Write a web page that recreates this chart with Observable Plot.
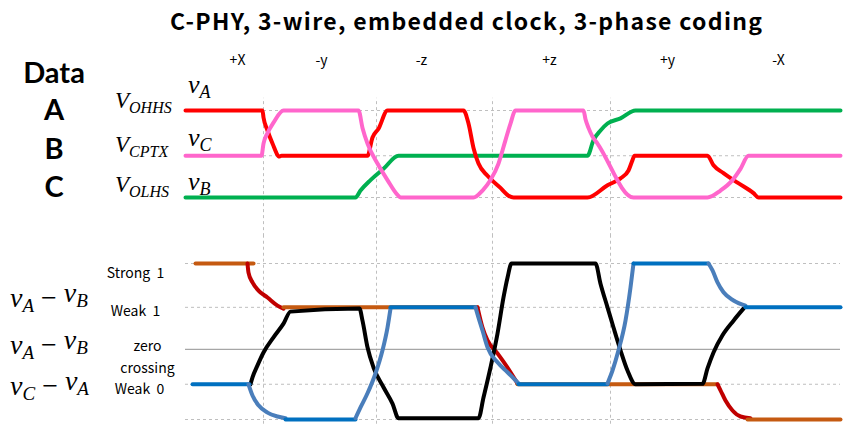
<!DOCTYPE html>
<html><head><meta charset="utf-8">
<script src="https://cdn.jsdelivr.net/npm/d3@7"></script>
<script src="https://cdn.jsdelivr.net/npm/@observablehq/plot@0.6"></script>
<style>
body{margin:0;background:#fff;}
#chart{position:relative;width:844px;height:424px;overflow:hidden;background:#fff;}
#chart svg{position:absolute;left:0;top:0;background:transparent;}
</style></head><body><div id="chart"></div>
<script>
// ---------- data ----------
const title = "C-PHY, 3-wire, embedded clock, 3-phase coding";
const phaseNames = ["+X", "-y", "-z", "+z", "+y", "-X"];
const phaseTimes = [237, 321, 421, 549, 667, 778];
const boundaries = [263, 376, 492, 610];
const timeDomain = [0, 844];
const gridStartTop = 263, gridStartBottom = 185, timeEnd = 840;

const wireNames = ["A", "B", "C"];
const levelNames = [["V", "OHHS"], ["V", "CPTX"], ["V", "OLHS"]];
const wireVoltNames = [["v", "A"], ["v", "C"], ["v", "B"]];
const topLevels = [1, 0.48, 0];             // VOHHS, VCPTX, VOLHS (normalized)

// single-ended wire voltages [time, level]
const vA = [[185,1],[262,1],[263,0.92],[267,0.77],[272,0.62],[279,0.47],[281,0.48],[367,0.48],[372,0.69],[378,0.79],[387,1],
  [463,1],[468,0.85],[473,0.57],[478,0.39],[487,0.25],[500,0.11],[508,0.02],[513,0],[587,0],[607,0.14],[620,0.22],[628,0.31],
  [632,0.43],[634,0.48],[707,0.48],[713,0.37],[723,0.28],[737,0.17],[753,0.05],[758,0],[840,0]];
const vC = [[185,0.48],[261,0.48],[263,0.62],[267,0.74],[273,0.86],[283,1],[358,1],[362,0.8],[367,0.62],[377,0.39],[387,0.2],
  [397,0.03],[400,0],[473,0],[482,0.08],[490,0.2],[498,0.39],[505,0.66],[510,0.85],[515,1],[583,1],[585,0.9],[588,0.8],
  [592,0.7],[597,0.62],[633,0],[707,0],[720,0.08],[732,0.2],[740,0.33],[748,0.48],[840,0.48]];
const vB = [[185,0],[355,0],[360,0.08],[370,0.2],[383,0.33],[398,0.48],[587,0.48],[593,0.66],[600,0.77],[607,0.85],
  [620,0.91],[635,1],[840,1]];

// differential levels (normalized) and labels
const diffLevels = [2, 0.98, -0.81, -1.63];
const diffLabels = ["Strong\u00a0\u00a01", "Weak\u00a0\u00a01", "zero\ncrossing", "Weak\u00a0\u00a00"];
const diffLabelLevels = [2, 0.98, 0, -0.81];
const diffLabelTimes = [135, 135, 147, 139];
const diffNames = [["v","A"," \u2212 ","v","B"], ["v","A"," \u2212 ","v","B"], ["v","C"," \u2212 ","v","A"]];

// differential traces: [kind, points]
const diffAB = [
  ["flat", [[195,2],[253,2]]],
  ["edge", [[247,2],[248,1.79],[252,1.56],[258,1.37],[267,1.21],[277,1.02],[283,0.95]]],
  ["flat", [[283,0.98],[477,0.98]]],
  ["edge", [[477,0.98],[482,0.51],[487,0.21],[497,-0.09],[507,-0.42],[517,-0.79]]],
  ["flat", [[517,-0.81],[717,-0.81]]],
  ["edge", [[717,-0.81],[720,-0.95],[725,-1.19],[732,-1.42],[740,-1.56],[750,-1.6]]],
  ["flat", [[747,-1.63],[840,-1.63]]]
];
const diffCA = [[250,-0.81],[252,-0.65],[257,-0.37],[263,-0.07],[273,0.28],[283,0.6],[290,0.88],[359,0.95],[362,0.67],
  [367,0.05],[373,-0.42],[383,-0.88],[392,-1.26],[398,-1.6],[478,-1.6],[483,-1.12],[490,-0.42],[497,0.37],[503,1.21],
  [507,1.67],[511,2],[595,2],[600,1.53],[607,0.98],[613,0.51],[620,-0.02],[627,-0.49],[635,-0.81],[702,-0.8],[707,-0.44],
  [713,-0.07],[722,0.33],[733,0.67],[743,0.95]];
const diffBC = [
  ["flat", [[192,-0.81],[249,-0.81]]],
  ["edge", [[248,-0.81],[252,-1.07],[258,-1.3],[267,-1.47],[277,-1.56],[285,-1.6]]],
  ["flat", [[285,-1.63],[355,-1.63]]],
  ["edge", [[355,-1.6],[360,-1.35],[367,-1.02],[375,-0.56],[382,-0.02],[387,0.51],[390,0.95]]],
  ["flat", [[390,0.98],[475,0.98]]],
  ["edge", [[475,0.98],[478,0.74],[482,0.44],[487,0.05],[497,-0.3],[507,-0.53],[518,-0.79]]],
  ["flat", [[518,-0.81],[607,-0.81]]],
  ["edge", [[607,-0.79],[612,-0.49],[618,-0.02],[625,0.67],[630,1.44],[633,2]]],
  ["flat", [[633,2],[708,2]]],
  ["edge", [[708,2],[712,1.84],[717,1.56],[723,1.33],[733,1.14],[745,1.02]]],
  ["flat", [[745,0.98],[840,0.98]]]
];

// ---------- drawing ----------
const W = 844, H = 424;
const FONT = "'Noto Sans CJK SC', 'Noto Sans', sans-serif";
const BIG = "Lato, 'Noto Sans', sans-serif";
const MATH = "'Liberation Serif', 'DejaVu Serif', serif";
const chart = document.getElementById("chart");
const pts = arr => arr.map(([t, v]) => ({t, v}));
const rows = segs => segs.flatMap(([kind, p], i) => p.map(([t, v]) => ({t, v, kind, seg: i})));
const dash = {stroke: "#BFBFBF", strokeWidth: 1, strokeDasharray: "3,3"};

const topPlot = Plot.plot({
  width: W, height: H, marginTop: 110, marginBottom: 227, marginLeft: 0, marginRight: 0,
  x: {domain: timeDomain, axis: null}, y: {domain: [0, 1], axis: null},
  style: {background: "transparent", fontFamily: FONT, overflow: "visible"},
  marks: [
    Plot.ruleX(boundaries, {x: d => d, y1: -0.45, y2: 1.14, ...dash}),
    Plot.ruleY(topLevels, {y: d => d, x1: gridStartTop, x2: timeEnd, ...dash}),
    Plot.line(pts(vB), {x: "t", y: "v", stroke: "#00B050", strokeWidth: 4, curve: "monotone-x"}),
    Plot.line(pts(vA), {x: "t", y: "v", stroke: "#FF0000", strokeWidth: 4, curve: "monotone-x"}),
    Plot.line(pts(vC), {x: "t", y: "v", stroke: "#FF66CC", strokeWidth: 4, curve: "monotone-x"}),
    Plot.text(phaseNames, {x: (d, i) => phaseTimes[i], y: 1.57, text: d => d, fontSize: 14, fill: "#000"})
  ]
});

const labelDy = [7, 2, 6, 3];
const botPlot = Plot.plot({
  width: W, height: H, marginTop: 263, marginBottom: 5, marginLeft: 0, marginRight: 0,
  x: {domain: timeDomain, axis: null}, y: {domain: [-1.63, 2], axis: null},
  color: {type: "identity"},
  style: {background: "transparent", fontFamily: FONT, overflow: "visible"},
  marks: [
    Plot.ruleX(boundaries, {x: d => d, y1: -1.74, y2: 2.63, ...dash}),
    Plot.ruleY(diffLevels, {y: d => d, x1: gridStartBottom, x2: timeEnd, ...dash}),
    Plot.ruleY([0], {y: d => d, x1: gridStartBottom, x2: timeEnd, stroke: "#A6A6A6", strokeWidth: 1.3}),
    Plot.line(rows(diffAB), {x: "t", y: "v", z: "seg", stroke: d => d.kind === "flat" ? "#C55A11" : "#C00000", strokeWidth: 4, curve: "monotone-x"}),
    Plot.line(pts(diffCA), {x: "t", y: "v", stroke: "#000000", strokeWidth: 4, curve: "monotone-x"}),
    Plot.line(rows(diffBC), {x: "t", y: "v", z: "seg", stroke: d => d.kind === "flat" ? "#0070C0" : "#4A7EBB", strokeWidth: 4, curve: "monotone-x"}),
    ...diffLabels.map((s, i) => Plot.text([s], {x: diffLabelTimes[i], y: diffLabelLevels[i], text: d => d, dy: labelDy[i], fontSize: 14, lineHeight: 1.57, fill: "#000"}))
  ]
});

chart.appendChild(botPlot);
chart.appendChild(topPlot);

// annotation overlay (title, wire names, math labels)
const ov = d3.select(chart).append("svg").attr("width", W).attr("height", H);
ov.append("text").attr("x", 466).attr("y", 30).attr("text-anchor", "middle")
  .attr("font-family", FONT).attr("font-weight", "bold").attr("font-size", 23)
  .attr("textLength", 592).attr("lengthAdjust", "spacing").text(title);
ov.append("text").attr("x", 54).attr("y", 83).attr("text-anchor", "middle")
  .attr("font-family", BIG).attr("font-weight", "bold").attr("font-size", 29).text("Data");
const wireBase = [120, 159, 197];
wireNames.forEach((n, i) => ov.append("text").attr("x", 54).attr("y", wireBase[i]).attr("text-anchor", "middle")
  .attr("font-family", BIG).attr("font-weight", "bold").attr("font-size", 29).text(n));

function math(x, y, parts, size, subSize, subDy) {
  const t = ov.append("text").attr("x", x).attr("y", y).attr("font-family", MATH)
    .attr("font-style", "italic").attr("font-size", size).attr("fill", "#000");
  parts.forEach((p, k) => {
    const isSub = (k % 3) === 1;
    const span = t.append("tspan").text(p);
    if (isSub) span.attr("font-size", subSize).attr("dy", subDy);
    else if (k > 0) span.attr("dy", -subDy);
    if (p.includes("\u2212")) span.attr("font-style", "normal");
  });
}
const levelBase = [108, 152, 192];
levelNames.forEach((p, i) => math(115, levelBase[i], p, 23, 16, 5));
const voltBase = [93, 146, 190];
wireVoltNames.forEach((p, i) => math(188, voltBase[i], p, 26, 18, 5));
const diffBase = [307, 354, 395];
diffNames.forEach((p, i) => math(10, diffBase[i], p, 28, 19, 5));
</script></body></html>
